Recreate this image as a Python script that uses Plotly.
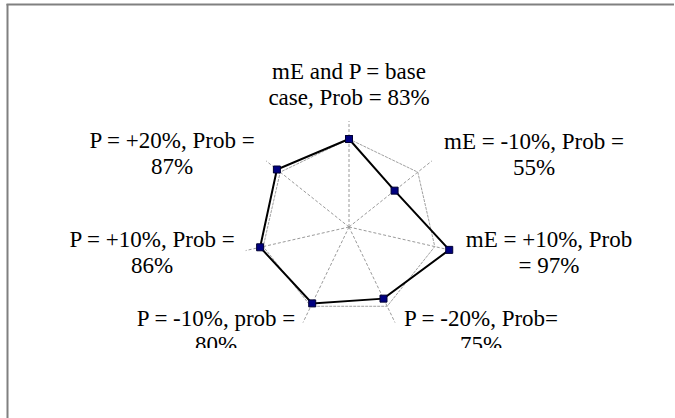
import plotly.graph_objects as go

# categories clockwise from the top, with the probability of each case
categories = ["base", "mE -10%", "mE +10%", "P -20%", "P -10%", "P +10%", "P +20%"]
prob = [83, 55, 97, 75, 80, 86, 87]
base_prob = [83, 83, 83, 83, 83, 83, 83]

# label text, split in the two lines shown on the chart
label_top = ["mE and P = base", "mE = -10%, Prob =", "mE = +10%, Prob",
             "P = -20%, Prob=", "P = -10%, prob =", "P = +10%, Prob =",
             "P = +20%, Prob ="]
label_bottom = ["case, Prob = 83%", "55%", "= 97%", "75%", "80%", "86%", "87%"]
# where each label block sits (pixels from the top-left corner)
label_x = [349, 534, 549, 481, 216, 152, 172]
label_y = [73, 143, 241, 320, 320, 241, 142]
line_gap = 26

W, H = 675, 418
cx, cy, rad = 349, 227, 106

fig = go.Figure()

fig.add_trace(go.Scatterpolar(
    r=base_prob + base_prob[:1], theta=categories + categories[:1],
    mode="lines", line=dict(color="#a0a0a0", width=1, dash="3px,1px"),
    hoverinfo="skip"))

fig.add_trace(go.Scatterpolar(
    r=prob + prob[:1], theta=categories + categories[:1],
    mode="lines+markers",
    line=dict(color="#000000", width=2),
    marker=dict(symbol="square", size=7, color="#000080",
                line=dict(color="#000033", width=1))))

# labels as clipped text so the bottom ones get cut like the original
font = dict(family="Liberation Serif", size=23, color="#000000")
fig.add_trace(go.Scatter(
    x=label_x, y=label_y, text=label_top, mode="text",
    textposition="middle center", cliponaxis=True, textfont=font,
    hoverinfo="skip"))
fig.add_trace(go.Scatter(
    x=label_x, y=[v + line_gap for v in label_y], text=label_bottom, mode="text",
    textposition="middle center", cliponaxis=True, textfont=font,
    hoverinfo="skip"))

fig.update_layout(
    width=W, height=H,
    margin=dict(l=0, r=0, t=0, b=0),
    paper_bgcolor="#ffffff", plot_bgcolor="rgba(0,0,0,0)",
    showlegend=False,
    xaxis=dict(range=[0, W], domain=[0, 1], visible=False, fixedrange=True),
    yaxis=dict(range=[348, 0], domain=[1 - 348 / H, 1], visible=False, fixedrange=True),
    polar=dict(
        domain=dict(x=[(cx - rad) / W, (cx + rad) / W],
                    y=[1 - (cy + rad) / H, 1 - (cy - rad) / H]),
        bgcolor="rgba(0,0,0,0)",
        gridshape="linear",
        radialaxis=dict(range=[0, 100], visible=False, showgrid=False),
        angularaxis=dict(direction="clockwise", rotation=90,
                         showline=False, showticklabels=False, ticks="",
                         gridcolor="#9a9a9a", griddash="3px,2px", gridwidth=1),
    ),
    shapes=[
        dict(type="line", xref="paper", yref="paper",
             x0=7.5 / W, x1=7.5 / W, y0=0, y1=1 - 4 / H,
             line=dict(color="#808080", width=2)),
        dict(type="line", xref="paper", yref="paper",
             x0=6.5 / W, x1=674 / W, y0=1 - 4.5 / H, y1=1 - 4.5 / H,
             line=dict(color="#808080", width=2)),
    ],
)

fig.write_html("out.html", config={"displayModeBar": False},
               post_script="document.body.style.margin='0';")
